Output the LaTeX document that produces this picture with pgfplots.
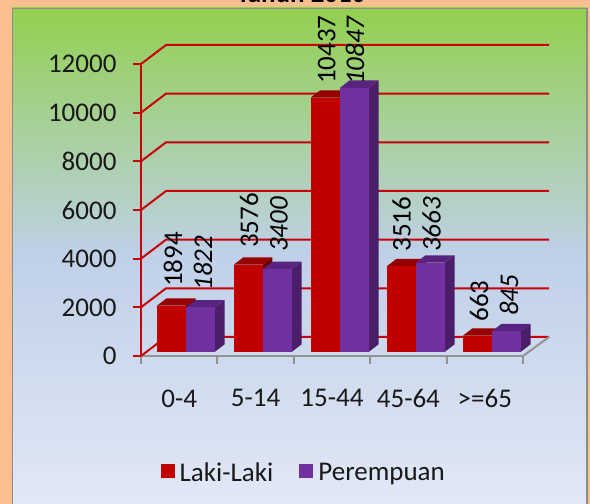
\documentclass[border=0pt]{standalone}
\usepackage{fontspec}
\setmainfont{Carlito}
\usepackage{pgfplots}
\pgfplotsset{compat=1.18}
\definecolor{peach}{RGB}{251,190,142}
\definecolor{gA}{RGB}{146,208,80}
\definecolor{gB}{RGB}{191,208,232}
\definecolor{gC}{RGB}{226,232,246}
\definecolor{rF}{RGB}{192,0,0}
\definecolor{rT}{RGB}{150,0,0}
\definecolor{rS}{RGB}{110,0,0}
\definecolor{pF}{RGB}{112,48,160}
\definecolor{pT}{RGB}{88,36,128}
\definecolor{pS}{RGB}{74,30,105}
\definecolor{gridred}{RGB}{200,0,10}
\definecolor{txt}{RGB}{25,25,25}
% left edge in picture units, value, front, top, side
\newcommand\threedbar[5]{%
  \pgfmathsetmacro\vt{#2+300}%
  \addplot[forget plot,fill=#5,draw=none,xshift=#1pt,yshift=4.3pt] coordinates {(29,0)(38.5,300)(38.5,\vt)(29,#2)} -- cycle;
  \addplot[forget plot,fill=#4,draw=none,xshift=#1pt,yshift=4.3pt] coordinates {(0,#2)(29,#2)(38.5,\vt)(9.5,\vt)} -- cycle;
  \addplot[forget plot,fill=#3,draw=none,xshift=#1pt,yshift=4.3pt] coordinates {(0,0)(29,0)(29,#2)(0,#2)} -- cycle;
}
\begin{document}
\begin{tikzpicture}[x=1pt,y=1pt]
\path[use as bounding box] (0,0) rectangle (590,504);
\fill[peach] (0,0) rectangle (590,504);
\node[anchor=base,font=\bfseries\fontsize{27}{30}\selectfont,text=black] at (301,501) {Tahun 2010};
\shade[top color=gA,bottom color=gB] (12,496) rectangle (587,249);
\shade[top color=gB,bottom color=gC] (12,249.5) rectangle (587,0);
\draw[color=gray!90,line width=1.8pt] (12.5,-3) -- (12.5,495.5) -- (587,495.5) -- (587,-3);
\begin{axis}[
  at={(141pt,148pt)},anchor=south west,
  scale only axis,width=382pt,height=292pt,
  xmin=0,xmax=382,ymin=0,ymax=12000,clip=false,
  axis x line*=bottom,axis y line*=left,
  x axis line style={color=gray!85,line width=2pt},
  y axis line style={color=gridred,line width=2pt},
  ytick={0,2000,4000,6000,8000,10000,12000},
  xtick={38.2,114.6,191,267.4,343.8},
  xticklabels={0-4,5-14,15-44,45-64,{>=65}},
  minor xtick={0,76.4,152.8,229.2,305.6,382},
  tick align=outside,
  major tick length=8pt,
  minor tick length=8pt,
  major y tick style={color=gridred,line width=2pt},
  major x tick style={draw=none},
  minor x tick style={color=gray!85,line width=2pt},
  scaled y ticks=false,
  /pgf/number format/assume math mode=true,
  /pgf/number format/1000 sep={},
  ticklabel style={font=\fontsize{27}{30}\selectfont,text=txt},
  yticklabel style={xshift=-13pt},
  xticklabel style={yshift=-22pt},
  legend style={at={(0.426,-0.40)},anchor=center,draw=none,fill=none,
    font=\fontsize{27}{30}\selectfont,text=txt,legend columns=2,
    /tikz/every even column/.style={column sep=24pt}},
  legend cell align=left,
  legend image code/.code={\fill[#1] (0pt,-5pt) rectangle (14pt,9pt);\path (17pt,0pt);},
]
% wall lines
\addplot[forget plot,gridred,line width=2pt] coordinates {(0,0)(25,781)(408,781)};
\addplot[forget plot,gridred,line width=2pt] coordinates {(0,2000)(25,2781)(408,2781)};
\addplot[forget plot,gridred,line width=2pt] coordinates {(0,4000)(25,4781)(408,4781)};
\addplot[forget plot,gridred,line width=2pt] coordinates {(0,6000)(25,6781)(408,6781)};
\addplot[forget plot,gridred,line width=2pt] coordinates {(0,8000)(25,8781)(408,8781)};
\addplot[forget plot,gridred,line width=2pt] coordinates {(0,10000)(25,10781)(408,10781)};
\addplot[forget plot,gridred,line width=2pt] coordinates {(0,12000)(25,12781)(408,12781)};
\addplot[forget plot,gray!85,line width=2pt] coordinates {(382,0)(408,781)};
% bars
\threedbar{16}{1894}{rF}{rT}{rS}
\threedbar{45}{1822}{pF}{pT}{pS}
\threedbar{92.8}{3576}{rF}{rT}{rS}
\threedbar{122}{3400}{pF}{pT}{pS}
\threedbar{169.5}{10437}{rF}{rT}{rS}
\threedbar{199}{10847}{pF}{pT}{pS}
\threedbar{246}{3516}{rF}{rT}{rS}
\threedbar{275}{3663}{pF}{pT}{pS}
\threedbar{322}{663}{rF}{rT}{rS}
\threedbar{351}{845}{pF}{pT}{pS}
% legend
\addlegendimage{fill=rF,draw=none}
\addlegendentry{Laki-Laki}
\addlegendimage{fill=pF,draw=none}
\addlegendentry{Perempuan}
% value labels
\def\lab{\fontsize{27}{30}\selectfont}
\def\labi{\fontsize{27}{30}\selectfont\itshape}
\node[rotate=90,anchor=west,text=black,inner sep=0pt,font=\lab] at (axis cs:32,2836) {1894};
\node[rotate=90,anchor=west,text=black,inner sep=0pt,font=\labi] at (axis cs:62,2684) {1822};
\node[rotate=90,anchor=west,text=black,inner sep=0pt,font=\lab] at (axis cs:108,4439) {3576};
\node[rotate=90,anchor=west,text=black,inner sep=0pt,font=\labi] at (axis cs:138,4274) {3400};
\node[rotate=90,anchor=west,text=black,inner sep=0pt,font=\lab] at (axis cs:185.7,11179) {10437};
\node[rotate=90,anchor=west,text=black,inner sep=0pt,font=\labi] at (axis cs:214,11138) {10847};
\node[rotate=90,anchor=west,text=black,inner sep=0pt,font=\lab] at (axis cs:260.7,4287) {3516};
\node[rotate=90,anchor=west,text=black,inner sep=0pt,font=\labi] at (axis cs:290.7,4274) {3663};
\node[rotate=90,anchor=west,text=black,inner sep=0pt,font=\lab] at (axis cs:338,1410) {663};
\node[rotate=90,anchor=west,text=black,inner sep=0pt,font=\labi] at (axis cs:368,1644) {845};
\end{axis}
\end{tikzpicture}
\end{document}
